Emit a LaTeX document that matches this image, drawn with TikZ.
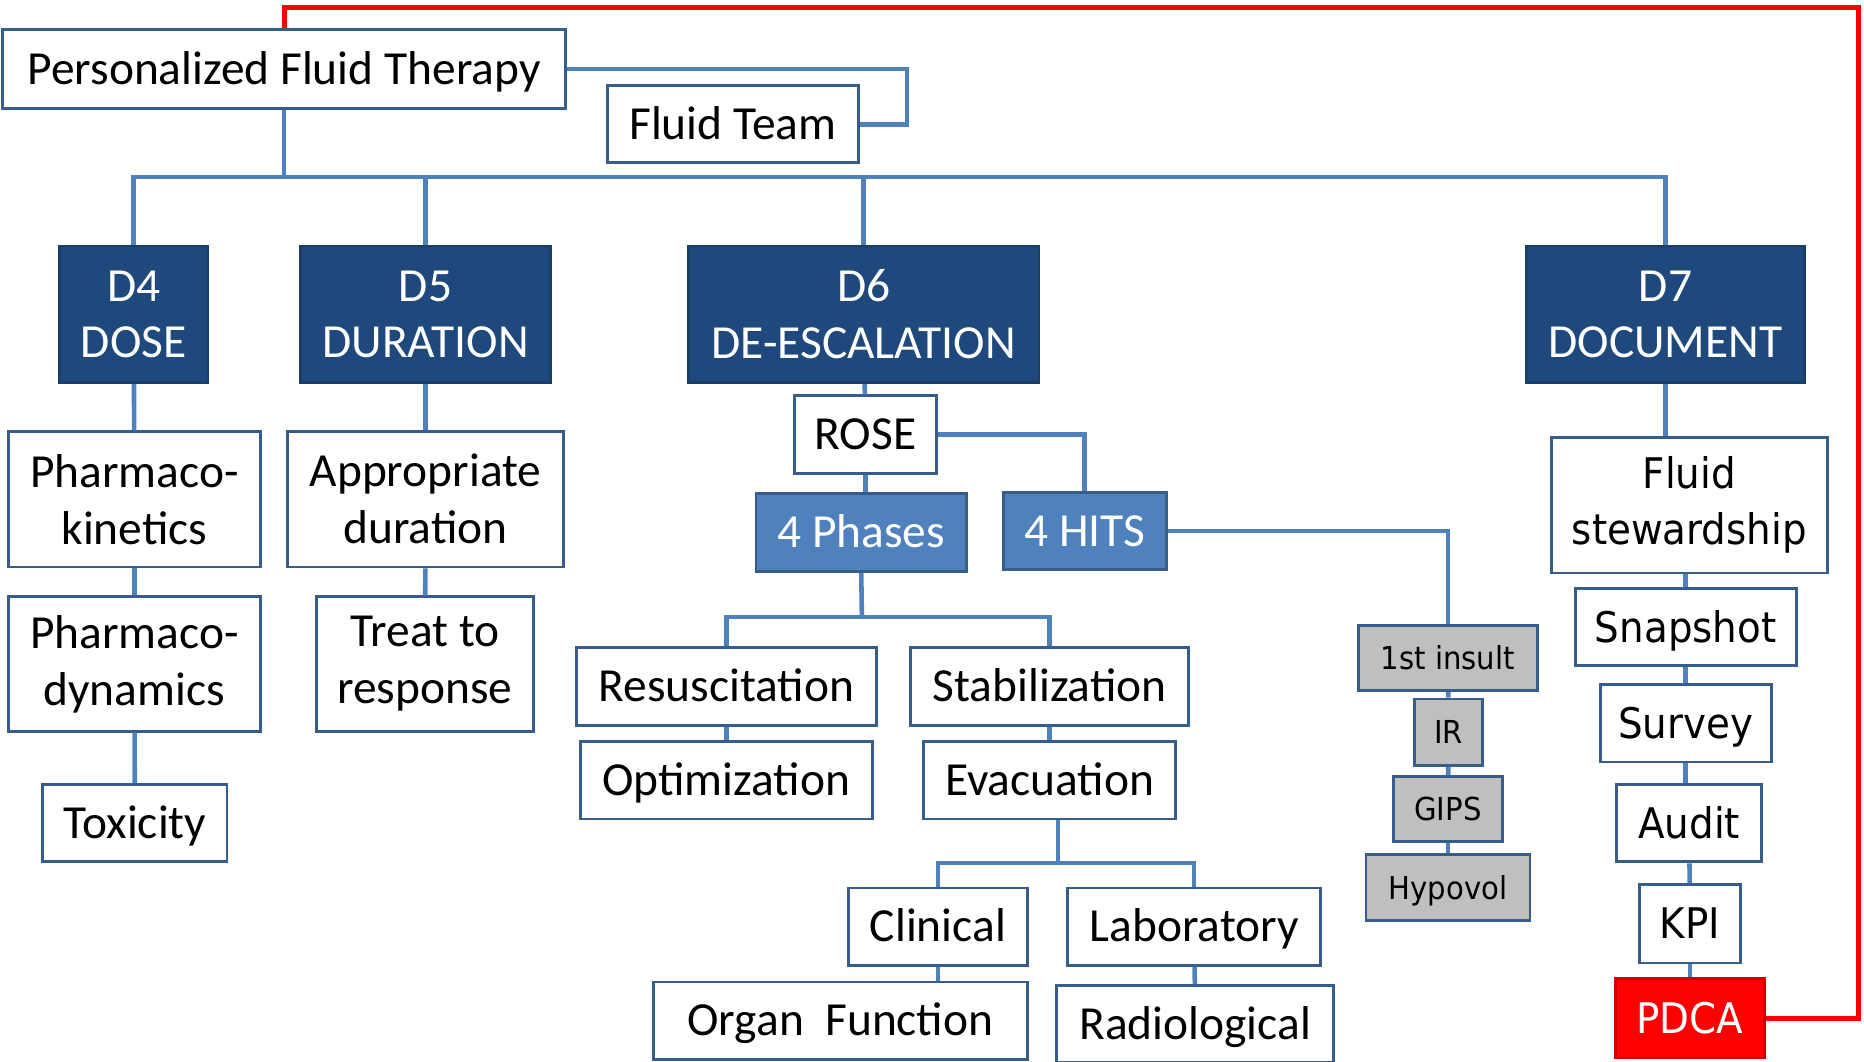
\documentclass[tikz,border=0pt]{standalone}
\usepackage{fontspec}
\setmainfont{Carlito}
\newfontfamily\stewfont[FakeStretch=0.92]{DejaVu Sans}
\usepackage{tikz}
\newlength\pxu
\setlength\pxu{0.011888cm}
\definecolor{navyfill}{HTML}{1F497D}
\definecolor{midblue}{HTML}{4F81BD}
\definecolor{lineblue}{HTML}{4F81BD}
\definecolor{boxedge}{HTML}{385D8A}
\definecolor{grayfill}{HTML}{BFBFBF}
\definecolor{pdcared}{HTML}{FF0000}
\tikzset{
    box_plain/.style={
        rectangle, draw=boxedge, line width=0.8pt, fill=white,
        inner sep=0pt, align=center, font=\fontsize{13.5}{16.2}\selectfont
    },
    box_dark/.style={
        box_plain, draw=navyfill!85!black, fill=navyfill, text=white
    },
    box_mid/.style={
        box_plain, fill=midblue, text=white
    },
    box_stew/.style={
        box_plain, font=\stewfont\fontsize{12}{16}\selectfont
    },
    box_gray/.style={
        box_plain, fill=grayfill, font=\stewfont\fontsize{9}{11}\selectfont,
        text height=6.6pt, text depth=0pt
    },
    box_red/.style={
        box_plain, draw=pdcared!80!black, fill=pdcared, text=white,
        font=\stewfont\fontsize{12}{16}\selectfont
    },
    one_line/.style={
        text height=8.7pt, text depth=0pt
    },
    link_line/.style={
        draw=lineblue, line width=1.3pt
    },
    loop_line/.style={
        draw=pdcared, line width=1.4pt
    }
}
\begin{document}
\begin{tikzpicture}[x=0.011888cm, y=-0.011888cm]
    \useasboundingbox (0,0) rectangle (1568,893);

    % Top
    \node[box_plain, one_line, minimum width=474\pxu, minimum height=66\pxu] (root) at (239,58) {Personalized Fluid Therapy};
    \node[box_plain, one_line, minimum width=211\pxu, minimum height=65\pxu] (team) at (616.5,104.5) {Fluid Team};

    % D row
    \node[box_dark, minimum width=125\pxu, minimum height=115\pxu] (d4) at (112.5,264.5) {D4\\DOSE};
    \node[box_dark, minimum width=210\pxu, minimum height=115\pxu] (d5) at (358,264.5) {D5\\DURATION};
    \node[box_dark, minimum width=295\pxu, minimum height=115\pxu] (d6) at (726.5,264.5) {D6\\DE-ESCALATION};
    \node[box_dark, minimum width=234\pxu, minimum height=115\pxu] (d7) at (1401,264.5) {D7\\DOCUMENT};

    % Dose
    \node[box_plain, minimum width=212\pxu, minimum height=114\pxu] (pk) at (113,420) {Pharmaco-\\kinetics};
    \node[box_plain, minimum width=212\pxu, minimum height=113\pxu] (pd) at (113,558.5) {Pharmaco-\\dynamics};
    \node[box_plain, one_line, minimum width=155\pxu, minimum height=65\pxu] (tox) at (113.5,692.5) {Toxicity};

    % Duration
    \node[box_plain, minimum width=232\pxu, minimum height=114\pxu] (appr) at (358,420) {Appropriate\\duration};
    \node[box_plain, minimum width=183\pxu, minimum height=113\pxu] (treat) at (357.5,558.5) {Treat to\\response};

    % De-escalation
    \node[box_plain, one_line, minimum width=120\pxu, minimum height=65\pxu] (rose) at (728,365.5) {ROSE};
    \node[box_mid, one_line, minimum width=177\pxu, minimum height=66\pxu] (phases) at (724.5,448) {4 Phases};
    \node[box_mid, one_line, minimum width=137\pxu, minimum height=65\pxu] (hits) at (912.5,446.5) {4 HITS};
    \node[box_plain, one_line, minimum width=252\pxu, minimum height=65\pxu] (resus) at (611,577.5) {Resuscitation};
    \node[box_plain, one_line, minimum width=234\pxu, minimum height=65\pxu] (stab) at (883,577.5) {Stabilization};
    \node[box_plain, one_line, minimum width=246\pxu, minimum height=65\pxu] (optim) at (611,656.5) {Optimization};
    \node[box_plain, one_line, minimum width=212\pxu, minimum height=65\pxu] (evac) at (883,656.5) {Evacuation};
    \node[box_plain, one_line, minimum width=150\pxu, minimum height=65\pxu] (clin) at (789,779.5) {Clinical};
    \node[box_plain, one_line, minimum width=213\pxu, minimum height=65\pxu] (lab) at (1004.5,779.5) {Laboratory};
    \node[box_plain, one_line, minimum width=314\pxu, minimum height=65\pxu] (organ) at (707,858.5) {Organ~~Function};
    \node[box_plain, one_line, minimum width=233\pxu, minimum height=65\pxu] (radio) at (1005.5,861.5) {Radiological};

    % Hits
    \node[box_gray, minimum width=150\pxu, minimum height=55\pxu] (ins1) at (1218,553.5) {1st insult};
    \node[box_gray, minimum width=57\pxu, minimum height=56\pxu] (ir) at (1218.5,616) {IR};
    \node[box_gray, minimum width=92\pxu, minimum height=55\pxu] (gips) at (1218,680.5) {GIPS};
    \node[box_gray, minimum width=138\pxu, minimum height=55\pxu] (hypo) at (1218,746.5) {Hypovol};

    % Document
    \node[box_stew, minimum width=232\pxu, minimum height=114\pxu] (stew) at (1421,425) {Fluid\\stewardship};
    \node[box_stew, one_line, minimum width=186\pxu, minimum height=65\pxu] (snap) at (1418,527.5) {Snapshot};
    \node[box_stew, one_line, minimum width=144\pxu, minimum height=65\pxu] (survey) at (1418,608.5) {Survey};
    \node[box_stew, one_line, minimum width=122\pxu, minimum height=65\pxu] (audit) at (1421,692.5) {Audit};
    \node[box_stew, one_line, minimum width=85\pxu, minimum height=66\pxu] (kpi) at (1421.5,777) {KPI};
    \node[box_red, one_line, minimum width=125\pxu, minimum height=67\pxu] (pdca) at (1421.5,856.5) {PDCA};

    % Bends
    \coordinate (bus_top) at (239,149);
    \coordinate (team_turn) at (763,80);
    \coordinate (loop_corner) at (1563,6);
    \coordinate (phase_bus) at (725,519);
    \coordinate (evac_bus) at (890,726);

    % Connectors
    \draw[link_line] (root.east) -| (team_turn) |- (team.east);
    \draw[link_line] (root.south) -- (bus_top);
    \draw[link_line] (d4.north) |- (bus_top);
    \draw[link_line] (d7.north) |- (bus_top);
    \draw[link_line] (d5.north) -- (d5.north |- bus_top);
    \draw[link_line] (d6.north) -- (d6.north |- bus_top);

    \draw[link_line] (d4) -- (pk);
    \draw[link_line] (pk) -- (pd);
    \draw[link_line] (pd) -- (tox);
    \draw[link_line] (d5) -- (appr);
    \draw[link_line] (appr) -- (treat);

    \draw[link_line] (d6) -- (rose);
    \draw[link_line] (rose.south) -- (rose.south |- phases.north);
    \draw[link_line] (rose.east) -| (hits.north);
    \draw[link_line] (hits.east) -| (ins1.north);
    \draw[link_line] (phases.south) -- (phase_bus);
    \draw[link_line] (resus.north) |- (phase_bus);
    \draw[link_line] (stab.north) |- (phase_bus);
    \draw[link_line] (resus) -- (optim);
    \draw[link_line] (stab) -- (evac);
    \draw[link_line] (evac.south -| evac_bus) -- (evac_bus);
    \draw[link_line] (clin.north) |- (evac_bus);
    \draw[link_line] (lab.north) |- (evac_bus);
    \draw[link_line] (clin.south) -- (clin.south |- organ.north);
    \draw[link_line] (lab) -- (radio);

    \draw[link_line] (ins1) -- (ir);
    \draw[link_line] (ir) -- (gips);
    \draw[link_line] (gips) -- (hypo);

    \draw[link_line] (d7.south) -- (d7.south |- stew.north);
    \draw[link_line] (snap.north) -- (snap.north |- stew.south);
    \draw[link_line] (snap) -- (survey);
    \draw[link_line] (survey.south) -- (survey.south |- audit.north);
    \draw[link_line] (audit) -- (kpi);
    \draw[link_line] (kpi) -- (pdca);

    % PDCA loop
    \draw[loop_line] (root.north) |- (loop_corner) |- (pdca.east);
\end{tikzpicture}
\end{document}
